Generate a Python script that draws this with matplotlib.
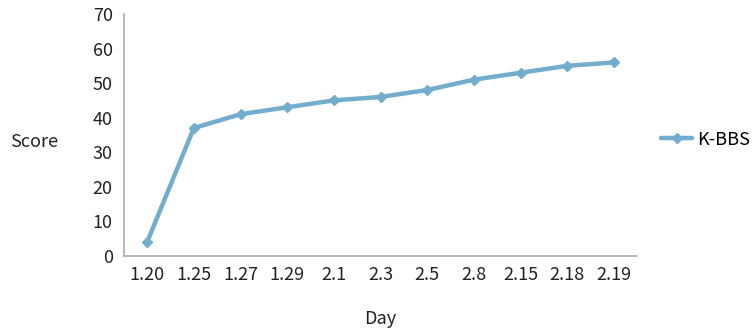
import matplotlib.pyplot as plt

plt.rcParams['font.family'] = ['Noto Sans CJK KR', 'DejaVu Sans']

days = ['1.20', '1.25', '1.27', '1.29', '2.1', '2.3', '2.5', '2.8', '2.15', '2.18', '2.19']
scores = [4, 37, 41, 43, 45, 46, 48, 51, 53, 55, 56]
color = '#72adcd'

fig = plt.figure(figsize=(7.55, 3.34), dpi=100)
ax = fig.add_axes([0.164, 0.234, 0.68, 0.724])

x = list(range(len(days)))
ax.plot(x, scores, color=color, linewidth=3.2, marker='D', markersize=5.5,
        label='K-BBS', solid_capstyle='round')

ax.set_xlim(-0.5, len(days) - 0.5)
ax.set_ylim(0, 70)
ax.set_yticks(range(0, 71, 10))
ax.set_xticks(x)
ax.set_xticklabels(days)
ax.tick_params(length=0, labelsize=13, colors='#222222', pad=7)
ax.tick_params(axis='y', pad=8)

for s in ['top', 'right']:
    ax.spines[s].set_visible(False)
for s in ['left', 'bottom']:
    ax.spines[s].set_color('#aaaaaa')
    ax.spines[s].set_linewidth(1.2)

fig.text(0.013, 0.575, 'Score', fontsize=13, color='#222222', va='center')
fig.text(0.503, 0.045, 'Day', fontsize=13, color='#222222', ha='center', va='center')

ax.legend(loc='center left', bbox_to_anchor=(1.015, 0.48), frameon=False,
          fontsize=13, handlelength=1.7, handletextpad=0.3)

fig.savefig('out.png', dpi=100)
